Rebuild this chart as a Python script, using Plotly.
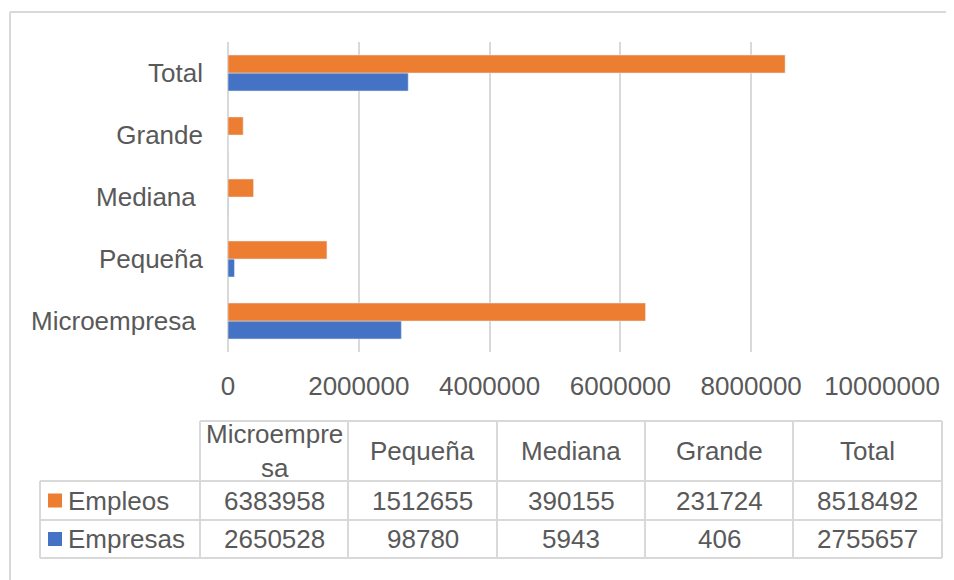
import plotly.graph_objects as go

# Data
categorias = ["Microempresa", "Pequeña", "Mediana", "Grande", "Total"]
etiquetas_eje = ["Microempresa\u00a0", "Pequeña", "Mediana\u00a0", "Grande", "Total"]
encabezados_tabla = ["Microempre<br>sa", "Pequeña", "Mediana", "Grande", "Total"]
empleos = [6383958, 1512655, 390155, 231724, 8518492]
empresas = [2650528, 98780, 5943, 406, 2755657]
x_ticks = [0, 2000000, 4000000, 6000000, 8000000, 10000000]

# the page body adds an 8px margin, so the figure starts at (8, 8)
OFF = 8
W, H = 954 - OFF, 580 - OFF
NARANJA = "#ED7D31"
AZUL = "#4472C4"
TEXTO = "#595959"
GRIS = "#D9D9D9"
FUENTE = "Liberation Sans, Arial, sans-serif"


def px(x):
    return (x - OFF) / W


def py(y):
    return 1 - (y - OFF) / H


fig = go.Figure()
fig.add_trace(go.Bar(y=categorias, x=empresas, orientation="h", name="Empresas",
                     marker=dict(color=AZUL), showlegend=False))
fig.add_trace(go.Bar(y=categorias, x=empleos, orientation="h", name="Empleos",
                     marker=dict(color=NARANJA), showlegend=False))

fig.update_layout(
    width=W, height=H,
    margin=dict(l=0, r=0, t=0, b=0),
    paper_bgcolor="white", plot_bgcolor="white",
    barmode="group", bargap=0.42, bargroupgap=0,
    font=dict(family=FUENTE, color=TEXTO, size=26),
    xaxis=dict(domain=[px(228), px(882)], range=[0, 10000000],
               tickvals=x_ticks, ticktext=[str(v) for v in x_ticks],
               showgrid=True, gridcolor=GRIS, gridwidth=2,
               zeroline=True, zerolinecolor=GRIS, zerolinewidth=2,
               showline=False, ticks="", automargin=False,
               ticklabelstandoff=16,
               tickfont=dict(size=26, color=TEXTO)),
    yaxis=dict(domain=[py(352), py(42)], type="category",
               categoryorder="array", categoryarray=categorias,
               tickvals=categorias, ticktext=etiquetas_eje,
               showgrid=False, zeroline=False, showline=False, ticks="",
               automargin=False, ticklabelstandoff=24,
               tickfont=dict(size=26, color=TEXTO)),
)

shapes = []
# outer chart frame (top and left edges visible)
shapes.append(dict(type="line", xref="paper", yref="paper", x0=px(10), x1=1.0,
                   y0=py(12), y1=py(12), line=dict(color=GRIS, width=2)))
shapes.append(dict(type="line", xref="paper", yref="paper", x0=px(10), x1=px(10),
                   y0=py(12), y1=0, line=dict(color=GRIS, width=2)))

# data table grid
col_bordes = [200, 348, 497, 645, 793, 942]
fila_bordes = [421, 481, 520, 558]
izq_tabla = 40
for i, yb in enumerate(fila_bordes):
    x0 = col_bordes[0] if i == 0 else izq_tabla
    shapes.append(dict(type="line", xref="paper", yref="paper", x0=px(x0), x1=px(col_bordes[-1]),
                       y0=py(yb), y1=py(yb), line=dict(color=GRIS, width=2)))
shapes.append(dict(type="line", xref="paper", yref="paper", x0=px(izq_tabla), x1=px(izq_tabla),
                   y0=py(fila_bordes[1]), y1=py(fila_bordes[-1]), line=dict(color=GRIS, width=2)))
for xb in col_bordes:
    shapes.append(dict(type="line", xref="paper", yref="paper", x0=px(xb), x1=px(xb),
                       y0=py(fila_bordes[0]), y1=py(fila_bordes[-1]), line=dict(color=GRIS, width=2)))

annotations = []
centros = [(col_bordes[i] + col_bordes[i + 1]) / 2 for i in range(len(col_bordes) - 1)]
y_head = (fila_bordes[0] + fila_bordes[1]) / 2
for cx, txt in zip(centros, encabezados_tabla):
    annotations.append(dict(x=px(cx), y=py(y_head), xref="paper", yref="paper", text=txt,
                            showarrow=False, xanchor="center", yanchor="middle",
                            font=dict(size=26, color=TEXTO), align="center"))

filas = [("Empleos", empleos, NARANJA), ("Empresas", empresas, AZUL)]
for r, (nombre, valores, color) in enumerate(filas):
    yc = (fila_bordes[r + 1] + fila_bordes[r + 2]) / 2
    shapes.append(dict(type="rect", xref="paper", yref="paper", x0=px(48), x1=px(62),
                       y0=py(yc - 7), y1=py(yc + 7), fillcolor=color, line=dict(width=0)))
    annotations.append(dict(x=px(66), y=py(yc), xref="paper", yref="paper", text=nombre,
                            showarrow=False, xanchor="left", yanchor="middle",
                            font=dict(size=26, color=TEXTO)))
    for cx, v in zip(centros, valores):
        annotations.append(dict(x=px(cx), y=py(yc), xref="paper", yref="paper", text=str(v),
                                showarrow=False, xanchor="center", yanchor="middle",
                                font=dict(size=26, color=TEXTO)))

fig.update_layout(shapes=shapes, annotations=annotations)

fig.write_html("out.html")
